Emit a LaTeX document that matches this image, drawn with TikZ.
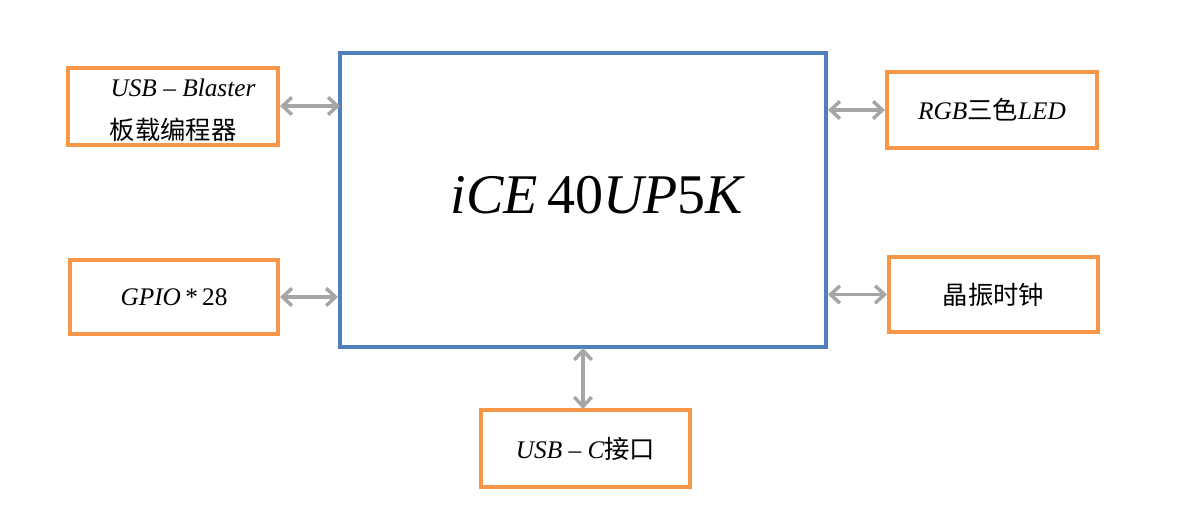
\documentclass[tikz,border=0pt]{standalone}
\usepackage{fontspec}
\setmainfont{Liberation Serif}
\newfontfamily\cjk{Noto Sans CJK SC}
\usetikzlibrary{arrows.meta}
\definecolor{bl}{HTML}{4F81BD}
\definecolor{og}{HTML}{F79646}
\definecolor{gr}{HTML}{A6A6A6}
\begin{document}
\begin{tikzpicture}[x=0.75pt,y=-0.75pt,
  ob/.style={draw=og,line width=3pt,inner sep=0pt,font=\fontsize{19}{22}\selectfont},
  ar/.style={draw=gr,line width=2.6pt,{Straight Barb[length=7pt,width=13pt]}-{Straight Barb[length=7pt,width=13pt]}}]
\useasboundingbox (0,0) rectangle (1202,516);
\node[draw=bl,line width=3pt,minimum width=486*0.75pt,minimum height=294*0.75pt,inner sep=0pt] (m) at (583,200) {};
\node[font=\fontsize{42}{46}\selectfont] at (597,195) {\itshape iCE\,\upshape 40\itshape UP\upshape 5\itshape K};
\node[ob,minimum width=210*0.75pt,minimum height=77*0.75pt] (a) at (173,106.5) {};
\node[font=\fontsize{19}{22}\selectfont] at (183,88) {\itshape USB -- Blaster};
\node[font=\fontsize{19}{22}\selectfont\cjk] at (173,130) {板载编程器};
\node[ob,minimum width=208*0.75pt,minimum height=74*0.75pt] (b) at (174,297) {\itshape GPIO\upshape\,*\,28};
\node[ob,minimum width=210*0.75pt,minimum height=76*0.75pt] (c) at (992,110) {\itshape RGB{\cjk 三色}LED};
\node[ob,minimum width=209*0.75pt,minimum height=75*0.75pt] (d) at (993.5,294.5) {\cjk 晶振时钟};
\node[ob,minimum width=209*0.75pt,minimum height=77*0.75pt] (e) at (585.5,448.5) {\itshape USB -- C{\cjk 接口}};
\coordinate (a1) at (280,106); \coordinate (a2) at (340,106);
\draw[ar] (a1) -- (a2);
\draw[ar] (b.east) -- (m.west |- b.east);
\draw[ar] (m.east |- c.west) -- (c.west);
\draw[ar] (m.east |- d.west) -- (d.west);
\coordinate (v1) at (583,348); \coordinate (v2) at (583,409);
\draw[ar] (v1) -- (v2);
\end{tikzpicture}
\end{document}
